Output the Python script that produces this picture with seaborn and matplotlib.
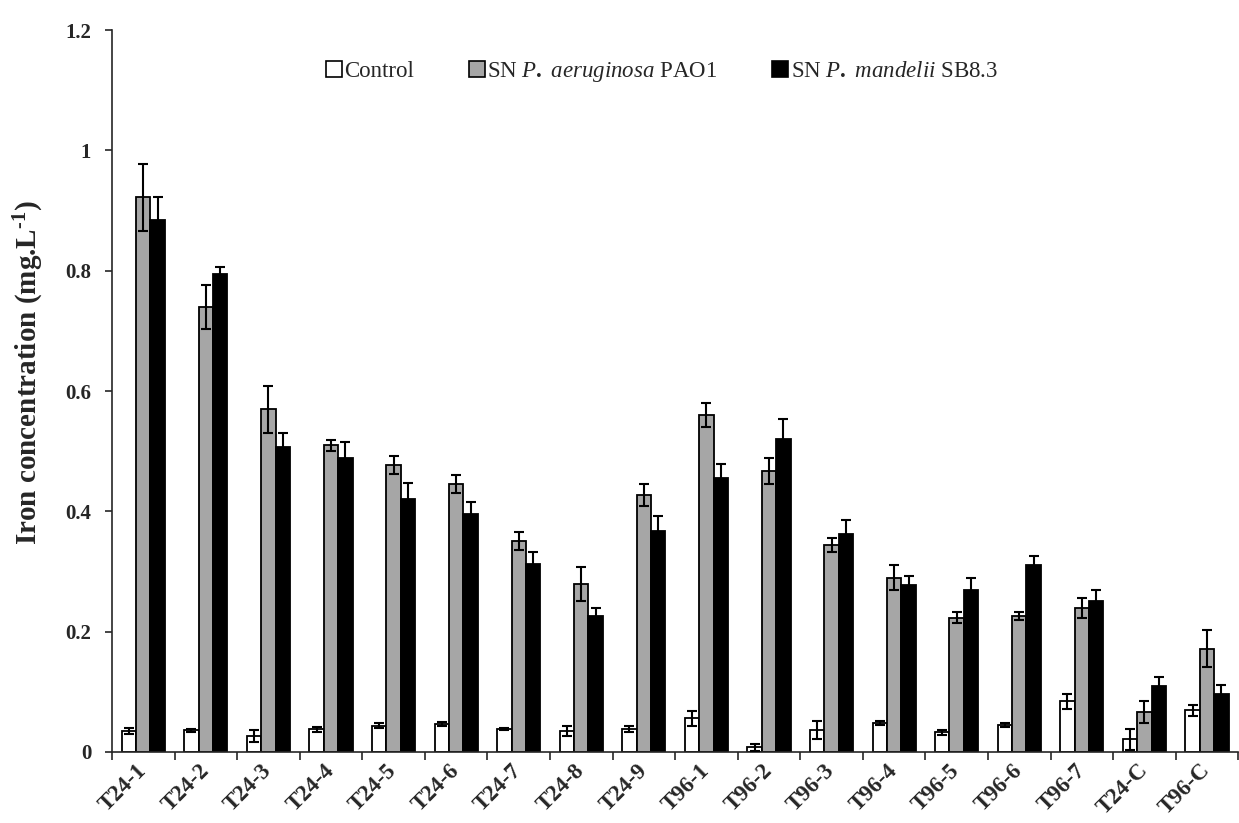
import matplotlib
matplotlib.use("Agg")
import matplotlib.pyplot as plt
from matplotlib.patches import Patch
from matplotlib.ticker import FixedLocator
import seaborn as sns
import pandas as pd
import numpy as np

categories = ["T24-1", "T24-2", "T24-3", "T24-4", "T24-5", "T24-6", "T24-7", "T24-8", "T24-9",
              "T96-1", "T96-2", "T96-3", "T96-4", "T96-5", "T96-6", "T96-7", "T24-C", "T96-C"]
control = [0.035, 0.036, 0.026, 0.038, 0.044, 0.047, 0.038, 0.035, 0.038,
           0.056, 0.008, 0.036, 0.048, 0.033, 0.045, 0.084, 0.021, 0.069]
control_err = [0.005, 0.003, 0.010, 0.004, 0.004, 0.003, 0.002, 0.009, 0.005,
               0.012, 0.006, 0.015, 0.003, 0.004, 0.004, 0.013, 0.018, 0.009]
pao1 = [0.922, 0.740, 0.570, 0.510, 0.477, 0.445, 0.351, 0.279, 0.427,
        0.560, 0.467, 0.344, 0.290, 0.223, 0.226, 0.239, 0.066, 0.172]
pao1_err = [0.056, 0.036, 0.039, 0.009, 0.015, 0.015, 0.015, 0.028, 0.018,
            0.020, 0.021, 0.011, 0.021, 0.009, 0.006, 0.017, 0.018, 0.030]
sb83 = [0.884, 0.794, 0.507, 0.489, 0.420, 0.395, 0.313, 0.226, 0.367,
        0.455, 0.521, 0.362, 0.278, 0.269, 0.311, 0.251, 0.109, 0.097]
sb83_err = [0.038, 0.012, 0.023, 0.026, 0.027, 0.020, 0.020, 0.014, 0.026,
            0.024, 0.033, 0.023, 0.014, 0.021, 0.015, 0.018, 0.015, 0.015]

series_names = ["Control", "PAO1", "SB8.3"]
series_labels = ["Control", "SN $\\mathit{P.}$ $\\mathit{aeruginosa}$ PAO1",
                 "SN $\\mathit{P.}$ $\\mathit{mandelii}$ SB8.3"]
series_colors = ["#FFFFFF", "#A6A6A6", "#000000"]
yticks = [0, 0.2, 0.4, 0.6, 0.8, 1.0, 1.2]
ytick_labels = ["0", "0.2", "0.4", "0.6", "0.8", "1", "1.2"]

sns.set_style("ticks")
plt.rcParams["font.family"] = ["Liberation Serif", "DejaVu Serif"]
plt.rcParams["mathtext.fontset"] = "custom"
plt.rcParams["mathtext.rm"] = "Liberation Serif:bold"
plt.rcParams["mathtext.it"] = "Liberation Serif:italic"
plt.rcParams["mathtext.bf"] = "Liberation Serif:bold"

values = [control, pao1, sb83]
errs = [control_err, pao1_err, sb83_err]
rows = []
for name, vals in zip(series_names, values):
    for c, v in zip(categories, vals):
        rows.append({"cat": c, "series": name, "value": v})
df = pd.DataFrame(rows)

fig = plt.figure(figsize=(12.39, 8.23), dpi=100)
ax = fig.add_axes([0.0904, 0.0863, 0.909, 0.877])

sns.barplot(data=df, x="cat", y="value", hue="series", hue_order=series_names,
            order=categories, palette=series_colors, width=0.69, errorbar=None,
            edgecolor="black", linewidth=1.3, ax=ax, legend=False)

for cont, err in zip(ax.containers, errs):
    xs = [p.get_x() + p.get_width() / 2 for p in cont.patches]
    hs = [p.get_height() for p in cont.patches]
    ax.errorbar(xs, hs, yerr=err, fmt="none", ecolor="black", elinewidth=1.5,
                capsize=3.3, capthick=1.5, zorder=5)

ax.set_xlim(-0.5, len(categories) - 0.5)
ax.set_ylim(0, 1.2)
ax.set_yticks(yticks)
ax.set_yticklabels(ytick_labels, fontsize=15, fontweight="bold")
ax.set_xticks(range(len(categories)))
ax.tick_params(axis="x", which="major", length=0, pad=11)
ax.set_xticklabels(categories, fontsize=16.5, fontweight="bold", rotation=45,
                   ha="right", va="center", rotation_mode="anchor")
ax.xaxis.set_minor_locator(FixedLocator(np.arange(-0.5, len(categories), 1.0)))
ax.tick_params(axis="x", which="minor", length=6, width=1.2, direction="out")
ax.tick_params(axis="y", length=5, width=1.2, direction="out", pad=10)
ax.set_xlabel("")
ax.set_ylabel("Iron concentration (mg.L$^{\\text{-1}}$)", fontsize=21,
              fontweight="bold")
ax.yaxis.set_label_coords(-0.059, 0.525)
sns.despine(ax=ax)
ax.spines["left"].set_linewidth(1.2)
ax.spines["bottom"].set_linewidth(1.2)

handles = [Patch(facecolor=c, edgecolor="black", linewidth=1.2) for c in series_colors]
ax.legend(handles, series_labels, loc="center", bbox_to_anchor=(0.488, 0.942),
          ncol=3, frameon=False, fontsize=16.5, handlelength=0.7, handleheight=0.7,
          handletextpad=0.1, columnspacing=2.4)

fig.savefig("out.png", dpi=100)
